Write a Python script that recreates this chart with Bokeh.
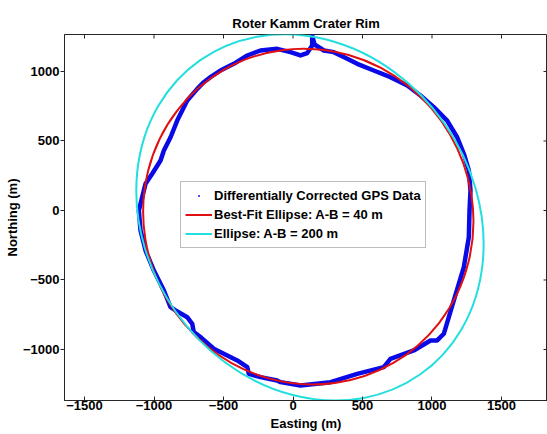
from bokeh.plotting import figure
from bokeh.models import FixedTicker, Legend, LegendItem, Range1d
from bokeh.embed import file_html
from bokeh.resources import INLINE

# ---- data ----
gps_easting = [138, 155, 222, 294, 390, 462, 581, 701, 822, 917, 1013, 1109, 1181, 1229, 1265,
               1277, 1270, 1265, 1229, 1157, 1085, 1037, 989, 869, 701, 653, 462, 270, 54, -90,
               -114, -234, -318, -329, -401, -473, -570, -665, -714, -725, -761, -845, -881, -929,
               -1001, -1061, -1097, -1109, -1085, -1061, -1013, -953, -929, -881, -833, -797, -761,
               -689, -642, -594, -522, -426, -329, -234, -114, -18, 54, 102, 138, 138]
gps_northing = [1259, 1194, 1151, 1139, 1091, 1055, 1007, 959, 899, 827, 743, 647, 527, 408, 288,
                144, 0, -192, -408, -647, -887, -935, -935, -1007, -1067, -1127, -1175, -1235, -1259, -1235,
                -1223, -1199, -1175, -1127, -1079, -1043, -995, -911, -875, -815, -768, -719, -696, -576,
                -432, -288, -144, 0, 96, 192, 264, 360, 432, 527, 647, 719, 791, 875, 923,
                959, 1007, 1055, 1115, 1151, 1163, 1139, 1115, 1132, 1187, 1259]

ellipse_labels = ["Best-Fit Ellipse: A-B = 40 m", "Ellipse: A-B = 200 m"]
ellipse_cx = [110, 122]
ellipse_cy = [-44, -50]
ellipse_semi_major = [1218, 1380]
ellipse_semi_minor = [1178, 1180]
ellipse_angle_deg = [120, 125]
ellipse_colors = ["#e01010", "#22dede"]

gps_label = "Differentially Corrected GPS Data"
x_ticks = [-1500, -1000, -500, 0, 500, 1000, 1500]
y_ticks = [-1000, -500, 0, 500, 1000]
x_limits = [-1644, 1831]
y_limits = [-1367, 1266]

FONT = "Liberation Sans"
AX = "#262626"
NAN = float("nan")

p = figure(width=547, height=434, output_backend="svg", toolbar_location=None,
           x_range=Range1d(*x_limits), y_range=Range1d(*y_limits),
           min_border_left=64, min_border_right=0, min_border_top=34, min_border_bottom=34,
           title="Roter Kamm Crater Rim")
p.title.align = "center"
p.title.text_font = FONT
p.title.text_font_size = "13px"
p.title.text_font_style = "bold"
p.title.text_color = "black"
p.title.standoff = 8
p.xgrid.visible = False
p.ygrid.visible = False
p.outline_line_color = AX
p.outline_line_width = 1
p.background_fill_color = "white"
p.border_fill_color = "white"

def style_axis(ax, tin, tout):
    ax.axis_line_color = AX
    ax.major_tick_line_color = AX
    ax.major_tick_in = tin
    ax.major_tick_out = tout
    ax.minor_tick_line_color = None
    ax.major_label_text_font = FONT
    ax.major_label_text_font_style = "bold"
    ax.major_label_text_color = "black"
    ax.major_label_text_font_size = "13px"
    ax.axis_label_text_font = FONT
    ax.axis_label_text_font_style = "bold"
    ax.axis_label_text_font_size = "13px"
    ax.axis_label_text_color = "black"

xa = p.xaxis[0]
xa.ticker = FixedTicker(ticks=x_ticks)
style_axis(xa, 4, 0)
xa.major_label_standoff = 0
xa.axis_label = "Easting (m)"
xa.axis_label_standoff = 3

ya = p.yaxis[0]
ya.ticker = FixedTicker(ticks=y_ticks)
style_axis(ya, 0, 4)
ya.major_label_standoff = 1
ya.axis_label = "Northing (m)"
ya.axis_label_standoff = 0

# top / right tick stubs (4 px long, pointing inward), placed from the tick lists
tick_len = 4 / 0.139
p.segment(x0=x_ticks, x1=x_ticks, y0=[y_limits[1]] * len(x_ticks),
          y1=[y_limits[1] - tick_len] * len(x_ticks), line_color=AX, line_width=1)
p.segment(x0=[x_limits[1]] * len(y_ticks), x1=[x_limits[1] - tick_len] * len(y_ticks),
          y0=y_ticks, y1=y_ticks, line_color=AX, line_width=1)

blue = "#0a0ae6"
p.line(gps_easting, gps_northing, line_color=blue, line_width=4.5, line_join="round")
dots = p.scatter(gps_easting, gps_northing, marker="dot", size=12, color=blue)

legend_lines = []
for i in range(len(ellipse_labels)):
    p.ellipse(x=[ellipse_cx[i]], y=[ellipse_cy[i]],
              width=[2 * ellipse_semi_major[i]], height=[2 * ellipse_semi_minor[i]],
              angle=[ellipse_angle_deg[i]], angle_units="deg",
              fill_color=None, line_color=ellipse_colors[i], line_width=2)
    # legend proxy (draws nothing in the plot area)
    legend_lines.append(p.line(x=[NAN, NAN], y=[NAN, NAN], line_color=ellipse_colors[i], line_width=2))

items = [LegendItem(label=gps_label, renderers=[dots])]
for lab, r in zip(ellipse_labels, legend_lines):
    items.append(LegendItem(label=lab, renderers=[r]))

legend = Legend(items=items, location=(116, 152))
legend.label_text_font = FONT
legend.label_text_font_style = "bold"
legend.label_text_font_size = "13px"
legend.label_text_color = "black"
legend.glyph_width = 27
legend.glyph_height = 19
legend.label_height = 19
legend.label_standoff = 2
legend.padding = 4
legend.spacing = 0
legend.margin = 0
legend.border_line_color = "#7a7a7a"
legend.border_line_width = 1
legend.background_fill_color = "white"
legend.background_fill_alpha = 1
p.add_layout(legend)

open("out.html", "w").write(file_html(p, INLINE))
